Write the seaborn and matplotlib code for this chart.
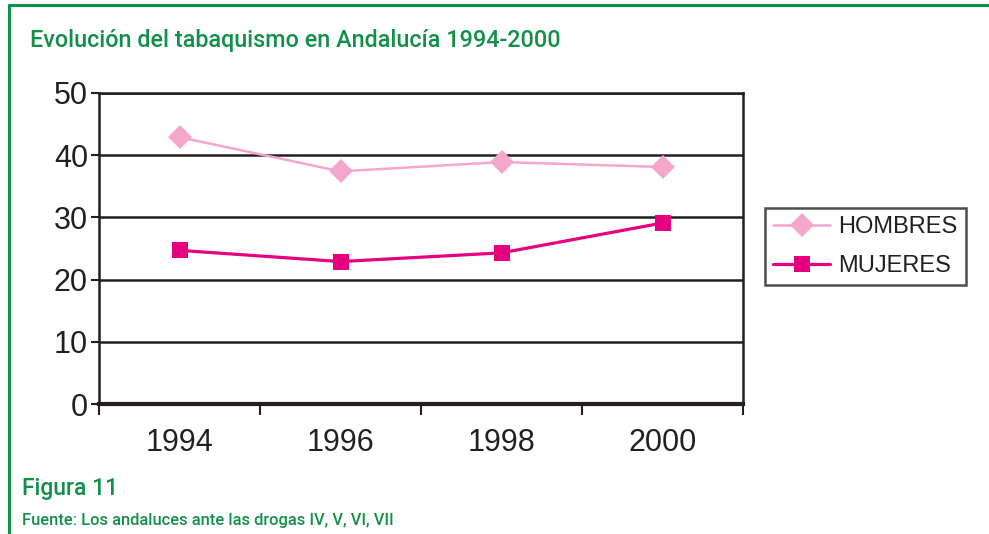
import matplotlib
matplotlib.use("Agg")
import matplotlib.pyplot as plt
import seaborn as sns
import pandas as pd
from matplotlib.lines import Line2D

years = ["1994", "1996", "1998", "2000"]
hombres = [42.9, 37.4, 38.9, 38.1]
mujeres = [24.7, 22.9, 24.3, 29.1]
series_names = ["HOMBRES", "MUJERES"]
y_ticks = [0, 10, 20, 30, 40, 50]

title = "Evolución del tabaquismo en Andalucía 1994-2000"
fig_label = "Figura 11"
source = "Fuente: Los andaluces ante las drogas IV, V, VI, VII"

GREEN = "#12904a"
C_H = "#f4a7cb"
C_M = "#e6007f"
INK = "#231f20"

sns.set_theme(style="white")
plt.rcParams["font.family"] = ["Liberation Sans", "DejaVu Sans"]
NARROW = ["Roboto", "Liberation Sans", "DejaVu Sans"]

df = pd.DataFrame({
    "year": years * 2,
    "value": hombres + mujeres,
    "serie": [series_names[0]] * 4 + [series_names[1]] * 4,
})

fig = plt.figure(figsize=(9.89, 5.34), dpi=100)
ax = fig.add_axes([99 / 989, 1 - 404 / 534, (743 - 99) / 989, (404 - 93) / 534])

sns.lineplot(data=df, x="year", y="value", hue="serie", style="serie",
             markers={"HOMBRES": "D", "MUJERES": "s"}, dashes=False,
             palette={"HOMBRES": C_H, "MUJERES": C_M}, sort=False,
             markersize=10, markeredgewidth=0, legend=False, ax=ax)
for ln, lw, ms in zip(ax.lines, [1.8, 2.3], [12.5, 11]):
    ln.set_linewidth(lw)
    ln.set_markersize(ms)

ax.set_xlim(-0.5, 3.5)
ax.set_ylim(0, 50)
ax.set_xlabel("")
ax.set_ylabel("")

# y axis
ax.set_yticks(y_ticks)
ax.set_yticklabels([str(v) for v in y_ticks], fontsize=22, color=INK)
for v in y_ticks[1:]:
    ax.axhline(v, color=INK, lw=1.8, zorder=0)
ax.tick_params(axis="y", which="major", direction="out", length=6, width=1.5,
               color=INK, pad=2, left=True)

# x axis: boundary ticks as major, labels as minor
ax.set_xticks([-0.5, 0.5, 1.5, 2.5, 3.5])
ax.set_xticklabels([""] * 5)
ax.set_xticks([0, 1, 2, 3], minor=True)
ax.set_xticklabels(years, minor=True, fontsize=22, color=INK)
ax.tick_params(axis="x", which="major", direction="out", length=8, width=1.5,
               color=INK, bottom=True)
ax.tick_params(axis="x", which="minor", length=0, pad=17)

for s in ["left", "right", "top"]:
    ax.spines[s].set_visible(True)
    ax.spines[s].set_color(INK)
    ax.spines[s].set_linewidth(1.8)
ax.spines["bottom"].set_color(INK)
ax.spines["bottom"].set_linewidth(3)
ax.grid(False)

# legend
handles = [
    Line2D([], [], color=C_H, lw=1.8, marker="D", markersize=12.5, markeredgewidth=0),
    Line2D([], [], color=C_M, lw=2.3, marker="s", markersize=11, markeredgewidth=0),
]
leg = fig.legend(handles, series_names, loc="upper left",
                 bbox_to_anchor=(765 / 989, 1 - 208 / 534),
                 bbox_transform=fig.transFigure,
                 fontsize=17, frameon=True, fancybox=False,
                 handlelength=2.4, handletextpad=0.35, borderpad=0.35,
                 labelspacing=0.7, borderaxespad=0)
leg.get_frame().set_edgecolor(INK)
leg.get_frame().set_linewidth(1.8)
for t in leg.get_texts():
    t.set_color(INK)

# texts
fig.text(30 / 989, 1 - 40 / 534, title, color=GREEN, fontsize=16.8,
         fontweight="medium", family=NARROW, va="center", ha="left")
fig.text(22 / 989, 1 - 489 / 534, fig_label, color=GREEN, fontsize=16.5,
         fontweight="medium", family=NARROW, va="center", ha="left")
fig.text(22 / 989, 1 - 520 / 534, source, color=GREEN, fontsize=11.9,
         fontweight="medium", family=NARROW, va="center", ha="left")

# green frame lines
fig.add_artist(Line2D([9 / 989, 1.0], [1 - 5 / 534, 1 - 5 / 534],
                      transform=fig.transFigure, color=GREEN, lw=2.2))
fig.add_artist(Line2D([9 / 989, 9 / 989], [0, 1 - 5 / 534],
                      transform=fig.transFigure, color=GREEN, lw=2.2))

fig.savefig("out.png", dpi=100)
